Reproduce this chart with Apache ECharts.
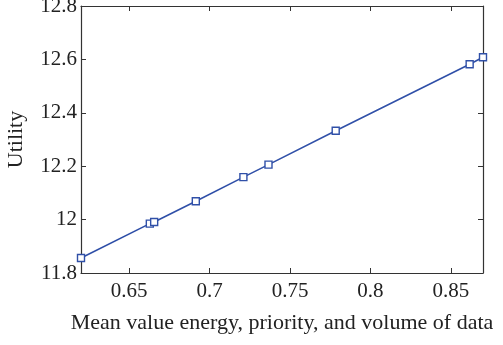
<!DOCTYPE html>
<html>
<head>
<meta charset="utf-8">
<script src="https://cdn.jsdelivr.net/npm/echarts@6/dist/echarts.min.js"></script>
<style>
  html, body { margin: 0; padding: 0; background: #fff; }
  #chart { width: 503px; height: 345px; }
</style>
</head>
<body>
<div id="chart"></div>
<script>
// 数据：读自参考图
const xValues = [0.62, 0.6628, 0.6655, 0.6914, 0.721, 0.7366, 0.7784, 0.8617, 0.87];
const yValues = [11.856, 11.985, 11.991, 12.069, 12.159, 12.206, 12.333, 12.582, 12.608];
const xTicks = [0.65, 0.7, 0.75, 0.8, 0.85];
const yTicks = [11.8, 12, 12.2, 12.4, 12.6, 12.8];

const chart = echarts.init(document.getElementById("chart"));

const lineColor = "#3050a8";
const axisColor = "#333";
const font = "Liberation Serif";

// 四周的框线与朝内的刻度
const boxAxis = (extra) =>
  Object.assign(
    {
      type: "value",
      axisLine: { show: true, lineStyle: { color: axisColor, width: 1.2 } },
      axisTick: { show: true, inside: true, length: 5, lineStyle: { color: axisColor } },
      splitLine: { show: false },
    },
    extra
  );

const points = xValues.map((x, i) => [x, yValues[i]]);

const option = {
  animation: false,
  // v6 默认会把标签挤进容器，这里关掉，按像素摆放
  grid: { left: 81, right: 20, top: 6, bottom: 72, outerBoundsMode: "none", containLabel: false },
  xAxis: [
    boxAxis({
      min: 0.62,
      max: 0.87,
      position: "bottom",
      name: "Mean value energy, priority, and volume of data",
      nameLocation: "middle",
      nameGap: 39,
      nameTextStyle: { fontFamily: font, fontSize: 22, color: "#222" },
      axisTick: { show: true, inside: true, length: 5, customValues: xTicks, lineStyle: { color: axisColor } },
      axisLabel: { customValues: xTicks, margin: 8, fontFamily: font, fontSize: 21, color: "#222" },
    }),
    boxAxis({
      min: 0.62,
      max: 0.87,
      position: "top",
      axisTick: { show: true, inside: true, length: 5, customValues: xTicks, lineStyle: { color: axisColor } },
      axisLabel: { show: false },
    }),
  ],
  yAxis: [
    boxAxis({
      min: 11.8,
      max: 12.8,
      position: "left",
      name: "Utility",
      nameLocation: "middle",
      nameGap: 54,
      nameRotate: 90,
      nameTextStyle: { fontFamily: font, fontSize: 22, color: "#222" },
      axisTick: { show: true, inside: true, length: 5, customValues: yTicks, lineStyle: { color: axisColor } },
      axisLabel: { customValues: yTicks, margin: 4, fontFamily: font, fontSize: 21, color: "#222" },
    }),
    boxAxis({
      min: 11.8,
      max: 12.8,
      position: "right",
      axisTick: { show: true, inside: true, length: 5, customValues: yTicks, lineStyle: { color: axisColor } },
      axisLabel: { show: false },
    }),
  ],
  series: [
    {
      type: "line",
      data: points,
      symbol: "rect",
      symbolSize: 7,
      showAllSymbol: true,
      lineStyle: { color: lineColor, width: 1.6 },
      itemStyle: { color: "#fff", borderColor: lineColor, borderWidth: 1.4 },
    },
  ],
};

chart.setOption(option);
</script>
</body>
</html>
